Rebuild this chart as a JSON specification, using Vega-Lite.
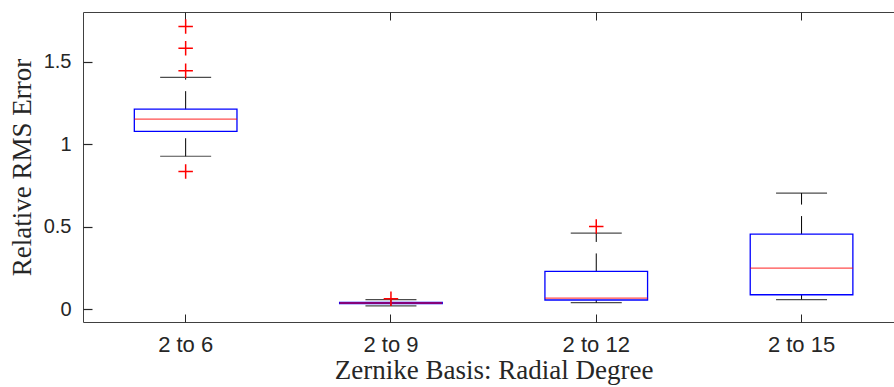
{
  "$schema": "https://vega.github.io/schema/vega-lite/v6.json",
  "width": 811,
  "height": 310,
  "autosize": {"type": "none"},
  "padding": {"left": 83, "top": 12, "right": 0, "bottom": 65},
  "background": "white",
  "config": {
    "view": {"stroke": "#404040", "strokeWidth": 1},
    "axis": {
      "domain": false,
      "grid": false,
      "ticks": true,
      "zindex": 1,
      "tickColor": "#262626",
      "tickWidth": 1,
      "tickSize": -8,
      "labelColor": "#262626",
      "labelFont": "Liberation Sans",
      "labelFontSize": 20,
      "titleFont": "Liberation Serif",
      "titleFontSize": 27,
      "titleFontWeight": "normal",
      "titleColor": "#262626"
    },
    "axisY": {"ticks": true, "tickSize": -9, "tickWidth": 1.2, "tickColor": "#262626", "tickOpacity": 1, "zindex": 3}
  },
  "resolve": {"axis": {"x": "independent"}},
  "datasets": {
    "boxes": [
      {"deg": "2 to 6", "lo": 0.927, "q1": 1.077, "med": 1.152, "q3": 1.212, "hi": 1.404},
      {"deg": "2 to 9", "lo": 0.022, "q1": 0.036, "med": 0.039, "q3": 0.042, "hi": 0.059},
      {"deg": "2 to 12", "lo": 0.041, "q1": 0.057, "med": 0.069, "q3": 0.230, "hi": 0.462},
      {"deg": "2 to 15", "lo": 0.060, "q1": 0.089, "med": 0.250, "q3": 0.456, "hi": 0.704}
    ],
    "outliers": [
      {"deg": "2 to 6", "v": 1.712},
      {"deg": "2 to 6", "v": 1.581},
      {"deg": "2 to 6", "v": 1.444},
      {"deg": "2 to 6", "v": 0.835},
      {"deg": "2 to 9", "v": 0.065},
      {"deg": "2 to 12", "v": 0.502}
    ]
  },
  "layer": [
    {
      "data": {"name": "boxes"},
      "mark": {"type": "rule", "color": "black", "strokeWidth": 1, "strokeDash": [18, 11.5]},
      "encoding": {
        "x": {
          "field": "deg",
          "type": "nominal",
          "sort": ["2 to 6", "2 to 9", "2 to 12", "2 to 15"],
          "scale": {"range": [0, 821.2], "paddingInner": 0, "paddingOuter": 0},
          "axis": {"orient": "bottom", "title": "Zernike Basis: Radial Degree", "labelAngle": 0, "labelFontSize": 22, "labelPadding": 20, "titlePadding": 2, "tickSize": -8}
        },
        "y": {
          "field": "q3", "type": "quantitative",
          "scale": {"domain": [-0.076, 1.8], "nice": false, "zero": false},
          "axis": {"title": "Relative RMS Error", "values": [0, 0.5, 1, 1.5], "format": "~g", "labelPadding": 21, "titlePadding": 7}
        },
        "y2": {"field": "hi"}
      }
    },
    {
      "data": {"name": "boxes"},
      "mark": {"type": "rule", "color": "black", "strokeWidth": 1, "strokeDash": [18, 11.5]},
      "encoding": {
        "x": {"field": "deg", "type": "nominal", "sort": ["2 to 6", "2 to 9", "2 to 12", "2 to 15"], "axis": null},
        "y": {"field": "lo", "type": "quantitative"},
        "y2": {"field": "q1"}
      }
    },
    {
      "data": {"name": "boxes"},
      "mark": {"type": "tick", "color": "black", "size": 51, "thickness": 1.2, "orient": "horizontal"},
      "encoding": {
        "x": {"field": "deg", "type": "nominal", "sort": ["2 to 6", "2 to 9", "2 to 12", "2 to 15"], "axis": null},
        "y": {"field": "hi", "type": "quantitative"}
      }
    },
    {
      "data": {"name": "boxes"},
      "mark": {"type": "tick", "color": "black", "size": 51, "thickness": 1.2, "orient": "horizontal"},
      "encoding": {
        "x": {"field": "deg", "type": "nominal", "sort": ["2 to 6", "2 to 9", "2 to 12", "2 to 15"], "axis": null},
        "y": {"field": "lo", "type": "quantitative"}
      }
    },
    {
      "data": {"name": "boxes"},
      "mark": {"type": "bar", "filled": false, "color": "#0000ff", "strokeWidth": 1.3, "width": {"band": 0.5}},
      "encoding": {
        "x": {"field": "deg", "type": "nominal", "sort": ["2 to 6", "2 to 9", "2 to 12", "2 to 15"], "axis": null},
        "y": {"field": "q1", "type": "quantitative"},
        "y2": {"field": "q3"}
      }
    },
    {
      "data": {"name": "boxes"},
      "mark": {"type": "tick", "color": "#ff0000", "size": 102.6, "thickness": 1.3, "orient": "horizontal"},
      "encoding": {
        "x": {
          "field": "deg", "type": "nominal",
          "sort": ["2 to 6", "2 to 9", "2 to 12", "2 to 15"],
          "axis": {"orient": "top", "labels": false, "title": null, "tickSize": -8}
        },
        "y": {"field": "med", "type": "quantitative"}
      }
    },
    {
      "data": {"name": "outliers"},
      "mark": {"type": "point", "shape": "M-1,0L1,0M0,-1L0,1", "filled": false, "color": "#ff0000", "strokeWidth": 1.5, "size": 210, "opacity": 1},
      "encoding": {
        "x": {"field": "deg", "type": "nominal", "sort": ["2 to 6", "2 to 9", "2 to 12", "2 to 15"], "axis": null},
        "y": {"field": "v", "type": "quantitative"}
      }
    }
  ]
}
